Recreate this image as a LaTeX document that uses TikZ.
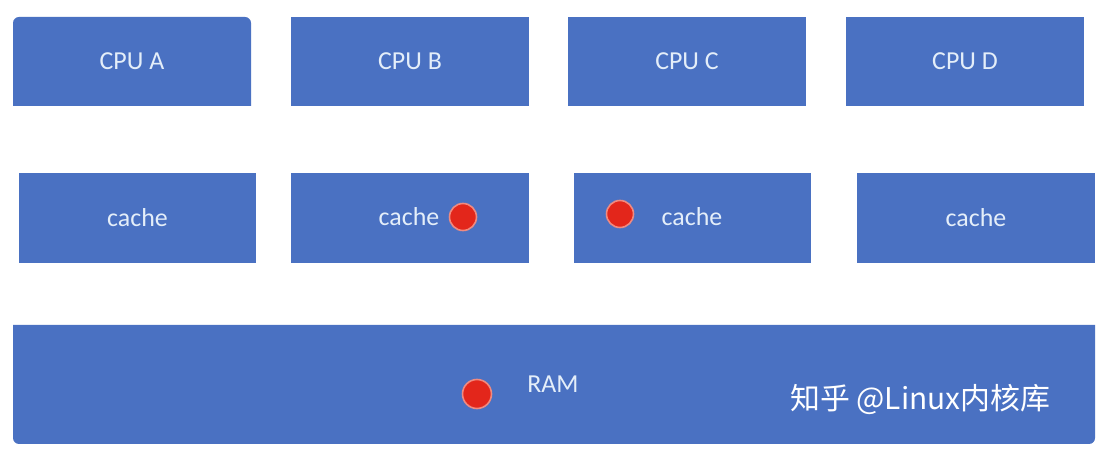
\documentclass[tikz,border=0pt]{standalone}
\usepackage{fontspec}
\setmainfont{Carlito}
\newfontfamily\cjk{Noto Sans CJK SC}
\definecolor{boxblue}{HTML}{4A71C2}
\definecolor{boxtext}{HTML}{E4EEF9}
\definecolor{dotred}{HTML}{E3261B}
\definecolor{dotrim}{HTML}{F08A80}
\tikzset{
  box/.style={fill=boxblue, inner sep=0pt, text=boxtext, font=\fontsize{26}{28}\selectfont,
    minimum width=238bp, minimum height=89bp},
  bare/.style={inner sep=0pt, text=boxtext, font=\fontsize{26}{28}\selectfont},
  dot/.style={circle, fill=dotred, draw=dotrim, line width=1.6bp, minimum size=27bp, inner sep=0pt},
}
\begin{document}
\begin{tikzpicture}[x=1bp, y=-1bp]
\useasboundingbox[fill=white] (0,0) rectangle (1108,460);
% CPU row
\fill[boxblue, rounded corners=6bp] (13,106) -- (13,17) -- (251,17) [sharp corners] -- (251,106) -- cycle;
\node[bare, minimum width=238bp, minimum height=89bp] (cpuA) at (132,61.5) {CPU A};
\node[box] (cpuB) at (410,61.5) {CPU B};
\node[box] (cpuC) at (687,61.5) {CPU C};
\node[box] (cpuD) at (965,61.5) {CPU D};
% cache row
\node[box, minimum width=237bp, minimum height=90bp] (cache1) at (137.5,218) {cache};
\node[box, minimum width=238bp, minimum height=90bp] (cache2) at (410,218) {};
\node[box, minimum width=237bp, minimum height=90bp] (cache3) at (692.5,218) {};
\node[box, minimum width=238bp, minimum height=90bp] (cache4) at (976,218) {cache};
\node[bare] (cache2t) at (409,217) {cache};
\node[bare] (cache3t) at (692,217) {cache};
% RAM
\fill[boxblue, rounded corners=6bp] (13,325) [sharp corners] -- (1095,325) [rounded corners=6bp] -- (1095,444) -- (13,444) -- (13,325);
\fill[boxblue] (13,325) rectangle (1095,335);
\node[inner sep=0pt, minimum width=1082bp, minimum height=119bp] (ram) at (554,384.5) {};
\node[bare] (ramt) at (553,384) {RAM};
% dots
\node[dot] (d1) at (463,217) {};
\node[dot] (d2) at (620,214) {};
\node[dot, minimum size=29bp] (d3) at (477,394) {};
% watermark
\node[inner sep=0pt, text=white, font=\cjk\fontsize{30}{32}\selectfont, anchor=west] (wm) at (790,399) {知乎 @Linux内核库};
\end{tikzpicture}
\end{document}
